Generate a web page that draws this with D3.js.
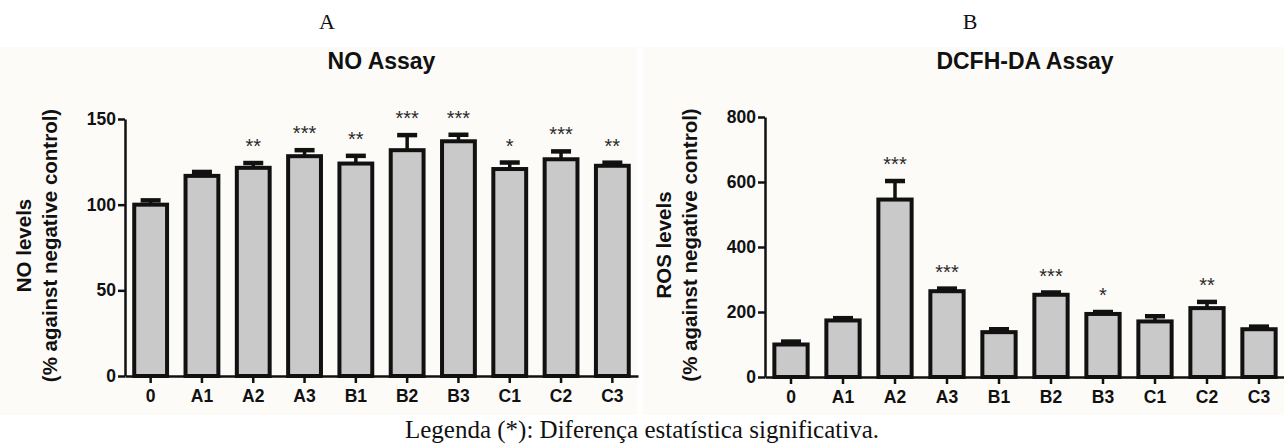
<!DOCTYPE html>
<html lang="en">
  <head>
    <meta charset="UTF-8" />
    <script src="https://d3js.org/d3.v7.min.js"></script>
    <style>
      body { margin: 0; background: #fff; }
      text { font-family: "Liberation Sans", Arial, sans-serif; }
    </style>
  </head>

  <body>
    <script>
      var width = 1284,
        height = 445;

      // groups on the x axis (same for both panels)
      var groups = ["0", "A1", "A2", "A3", "B1", "B2", "B3", "C1", "C2", "C3"];

      // panel A : NO assay
      var noMean = [100, 116.8, 121.5, 128.3, 124, 131.8, 137, 120.8, 126.5, 122.7];
      var noErr = [2.5, 2.3, 2.8, 3.5, 4.5, 8.8, 3.8, 3.8, 4.6, 1.8];
      var noStars = ["", "", "**", "***", "**", "***", "***", "*", "***", "**"];
      var noTicks = [0, 50, 100, 150];

      // panel B : DCFH-DA assay
      var rosMean = [100, 174, 546, 264, 138, 253, 194, 171, 212, 147];
      var rosErr = [9, 7, 57, 8, 9, 7, 6, 16, 19, 8];
      var rosStars = ["", "", "***", "***", "", "***", "*", "", "**", ""];
      var rosTicks = [0, 200, 400, 600, 800];

      var svg = d3
        .select("body")
        .append("svg")
        .attr("width", width)
        .attr("height", height);

      // light beige plot backgrounds
      svg.append("rect").attr("x", 0).attr("y", 47).attr("width", 637).attr("height", 368).attr("fill", "#fcfbf8");
      svg.append("rect").attr("x", 643).attr("y", 47).attr("width", 641).attr("height", 368).attr("fill", "#fcfbf8");

      function drawPanel(opt) {
        var x = d3
          .scaleBand()
          .domain(groups)
          .range(opt.xRange)
          .paddingInner(0.36)
          .paddingOuter(0.18);

        var y = d3.scaleLinear().domain(opt.yDomain).range(opt.yRange);

        var g = svg.append("g");

        var rows = groups.map(function (k, i) {
          return { key: k, mean: opt.mean[i], err: opt.err[i], star: opt.stars[i] };
        });

        // error bars (upper only)
        g.selectAll(".err")
          .data(rows)
          .enter()
          .append("line")
          .attr("x1", function (d) { return x(d.key) + x.bandwidth() / 2; })
          .attr("x2", function (d) { return x(d.key) + x.bandwidth() / 2; })
          .attr("y1", function (d) { return y(d.mean); })
          .attr("y2", function (d) { return y(d.mean + d.err); })
          .attr("stroke", "#111")
          .attr("stroke-width", 3.5);

        g.selectAll(".cap")
          .data(rows)
          .enter()
          .append("line")
          .attr("x1", function (d) { return x(d.key) + x.bandwidth() / 2 - 10; })
          .attr("x2", function (d) { return x(d.key) + x.bandwidth() / 2 + 10; })
          .attr("y1", function (d) { return y(d.mean + d.err); })
          .attr("y2", function (d) { return y(d.mean + d.err); })
          .attr("stroke", "#111")
          .attr("stroke-width", 4.5);

        // bars
        g.selectAll(".bar")
          .data(rows)
          .enter()
          .append("rect")
          .attr("x", function (d) { return x(d.key); })
          .attr("y", function (d) { return y(d.mean); })
          .attr("width", x.bandwidth())
          .attr("height", function (d) { return y(0) - y(d.mean); })
          .attr("fill", "#c9c9c9")
          .attr("stroke", "#111")
          .attr("stroke-width", 4);

        // significance stars
        g.selectAll(".star")
          .data(rows.filter(function (d) { return d.star; }))
          .enter()
          .append("text")
          .attr("x", function (d) { return x(d.key) + x.bandwidth() / 2; })
          .attr("y", function (d) { return y(d.mean + d.err) - 10; })
          .attr("text-anchor", "middle")
          .attr("font-size", 20)
          .attr("fill", "#2a2a2a")
          .text(function (d) { return d.star; });

        // axes
        var yAxis = g
          .append("g")
          .attr("transform", "translate(" + opt.xRange[0] + ",0)")
          .call(d3.axisLeft(y).tickValues(opt.ticks).tickSize(7).tickSizeOuter(0).tickPadding(2));

        var xAxis = g
          .append("g")
          .attr("transform", "translate(0," + y(0) + ")")
          .call(d3.axisBottom(x).tickSize(7).tickSizeOuter(0).tickPadding(7));

        [xAxis, yAxis].forEach(function (a) {
          a.selectAll("path, line").attr("stroke", "#111").attr("stroke-width", 2.5);
          a.selectAll("text")
            .attr("font-size", 17.5)
            .attr("font-weight", "bold")
            .attr("fill", "#111");
        });

        // title
        svg.append("text")
          .attr("x", (opt.xRange[0] + opt.xRange[1]) / 2)
          .attr("y", 69)
          .attr("text-anchor", "middle")
          .attr("font-size", 23)
          .attr("font-weight", "bold")
          .attr("fill", "#111")
          .text(opt.title);

        // panel letter
        svg.append("text")
          .attr("x", opt.letterX)
          .attr("y", 29)
          .attr("text-anchor", "middle")
          .attr("font-size", 22)
          .style("font-family", "'Liberation Serif', 'Times New Roman', serif")
          .attr("fill", "#111")
          .text(opt.letter);

        // y axis title (two lines)
        var cy = (y.range()[0] + y.range()[1]) / 2 - 2;
        opt.yTitle.forEach(function (t, i) {
          svg.append("text")
            .attr("transform", "translate(" + (opt.yTitleX + i * 26) + "," + cy + ") rotate(-90)")
            .attr("text-anchor", "middle")
            .attr("font-size", 20.5)
            .attr("font-weight", "bold")
            .attr("fill", "#111")
            .text(t);
        });
      }

      drawPanel({
        xRange: [125, 638],
        yDomain: [0, 150],
        yRange: [376, 119],
        mean: noMean,
        err: noErr,
        stars: noStars,
        ticks: noTicks,
        title: "NO Assay",
        letter: "A",
        letterX: 327,
        yTitle: ["NO levels", "(% against negative control)"],
        yTitleX: 31
      });

      drawPanel({
        xRange: [765, 1285],
        yDomain: [0, 800],
        yRange: [377, 117],
        mean: rosMean,
        err: rosErr,
        stars: rosStars,
        ticks: rosTicks,
        title: "DCFH-DA Assay",
        letter: "B",
        letterX: 970,
        yTitle: ["ROS levels", "(% against negative control)"],
        yTitleX: 671
      });

      // footnote
      svg.append("text")
        .attr("x", 642)
        .attr("y", 438)
        .attr("text-anchor", "middle")
        .attr("font-size", 25)
        .style("font-family", "'Liberation Serif', 'Times New Roman', serif")
        .attr("fill", "#111")
        .text("Legenda (*): Diferença estatística significativa.");
    </script>
  </body>
</html>
